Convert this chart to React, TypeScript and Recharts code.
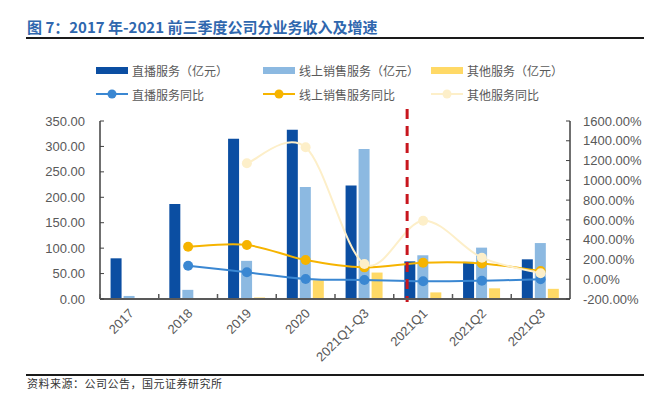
import {
  Bar,
  ComposedChart,
  Line,
  ReferenceLine,
  XAxis,
  YAxis,
} from "recharts";

const categories = ["2017", "2018", "2019", "2020", "2021Q1-Q3", "2021Q1", "2021Q2", "2021Q3"];
const liveRevenue = [80, 187, 315, 333, 223, 74, 73, 78];
const onlineRevenue = [6, 18, 75, 220, 295, 86, 101, 110];
const otherRevenue = [0, 1.5, 3, 37, 52, 13, 21, 20];
const liveYoy = [null, 136, 70, 2, -8, -21, -15, -1];
const onlineYoy = [null, 329, 346, 194, 120, 167, 160, 83];
const otherYoy = [null, null, 1172, 1334, 154, 592, 218, 60];
const leftTicks = [0, 50, 100, 150, 200, 250, 300, 350];
const rightTicks = [-200, 0, 200, 400, 600, 800, 1000, 1200, 1400, 1600];

const C_LIVE = "#0b4ea2";
const C_ONLINE = "#8cb9e1";
const C_OTHER = "#ffd966";
const C_LIVE_L = "#3a87d2";
const C_ONLINE_L = "#f6b400";
const C_OTHER_L = "#fdefc9";
const AXIS_GRAY = "#595959";
const NUM_FONT = "'Liberation Sans', Arial, sans-serif";

const W = 658;
const H = 396;
const PLOT_L = 100;
const PLOT_R = 570;
const HALF_BAND = (PLOT_R - PLOT_L) / categories.length / 2;

const data = categories.map((c, i) => ({
  name: c,
  live: liveRevenue[i],
  online: onlineRevenue[i],
  other: otherRevenue[i],
  liveYoy: liveYoy[i],
  onlineYoy: onlineYoy[i],
  otherYoy: otherYoy[i],
}));

// excel-like smoothed line (catmull-rom through the points)
function smoothCurve(context: any) {
  let pts: number[][] = [];
  return {
    areaStart() {},
    areaEnd() {},
    lineStart() {
      pts = [];
    },
    point(x: number, y: number) {
      pts.push([+x, +y]);
    },
    lineEnd() {
      const n = pts.length;
      if (!n) return;
      context.moveTo(pts[0][0], pts[0][1]);
      for (let i = 0; i < n - 1; i++) {
        const p0 = pts[i - 1] || pts[i];
        const p1 = pts[i];
        const p2 = pts[i + 1];
        const p3 = pts[i + 2] || p2;
        context.bezierCurveTo(
          p1[0] + (p2[0] - p0[0]) / 6,
          p1[1] + (p2[1] - p0[1]) / 6,
          p2[0] - (p3[0] - p1[0]) / 6,
          p2[1] - (p3[1] - p1[1]) / 6,
          p2[0],
          p2[1]
        );
      }
    },
  };
}

const XTick = (props: any) => {
  const { x, y, payload } = props;
  return (
    <g>
      <line x1={x - HALF_BAND} x2={x - HALF_BAND} y1={y - 5} y2={y} stroke={AXIS_GRAY} strokeWidth={1.5} />
      <text
        transform={`translate(${x + 2},${y + 12}) rotate(-45)`}
        textAnchor="end"
        fill={AXIS_GRAY}
        fontSize={13}
        fontFamily={NUM_FONT}
        dy="0.35em"
      >
        {payload.value}
      </text>
    </g>
  );
};

const legendRows = [
  [
    { label: "直播服务（亿元）", color: C_LIVE, kind: "bar" },
    { label: "线上销售服务（亿元）", color: C_ONLINE, kind: "bar" },
    { label: "其他服务（亿元）", color: C_OTHER, kind: "bar" },
  ],
  [
    { label: "直播服务同比", color: C_LIVE_L, kind: "line" },
    { label: "线上销售服务同比", color: C_ONLINE_L, kind: "line" },
    { label: "其他服务同比", color: C_OTHER_L, kind: "line" },
  ],
];
const legendCols = [96, 263, 431];
const legendRowY = [70, 94];

function LegendItem({ label, color, kind }: { label: string; color: string; kind: string }) {
  return (
    <div style={{ display: "flex", alignItems: "center", height: 16 }}>
      {kind === "bar" ? (
        <div style={{ width: 32, height: 7, background: color }} />
      ) : (
        <svg width={32} height={12}>
          <line x1={0} x2={32} y1={6} y2={6} stroke={color} strokeWidth={2} />
          <circle cx={16} cy={6} r={4.5} fill={color} />
        </svg>
      )}
      <span style={{ marginLeft: 4, fontSize: 12, color: "#595959", letterSpacing: 0 }}>{label}</span>
    </div>
  );
}

export default function App() {
  const textFont = "'Noto Sans CJK SC', 'Liberation Sans', sans-serif";
  return (
    <div
      style={{
        position: "absolute",
        left: 0,
        top: 0,
        width: W,
        height: H,
        background: "#fff",
        fontFamily: textFont,
        overflow: "hidden",
      }}
    >
      <ComposedChart
        width={W}
        height={H}
        data={data}
        margin={{ top: 121, right: 18, bottom: 37, left: 30 }}
        barCategoryGap="18%"
        barGap={2}
        style={{ position: "absolute", left: 0, top: 0 }}
      >
        <XAxis
          dataKey="name"
          xAxisId="x"
          height={60}
          interval={0}
          tickSize={0}
          tickMargin={0}
          tickLine={false}
          tick={<XTick />}
          axisLine={{ stroke: AXIS_GRAY, strokeWidth: 2 }}
        />
        <YAxis
          yAxisId="left"
          width={70}
          domain={[0, 350]}
          ticks={leftTicks}
          interval={0}
          tickFormatter={(v: number) => v.toFixed(2)}
          tickSize={-4}
          tickMargin={19}
          tick={{ fill: AXIS_GRAY, fontSize: 13, fontFamily: NUM_FONT }}
          tickLine={{ stroke: "#404040" }}
          axisLine={{ stroke: "#404040", strokeWidth: 1.5 }}
        />
        <YAxis
          yAxisId="right"
          orientation="right"
          width={70}
          domain={[-200, 1600]}
          ticks={rightTicks}
          interval={0}
          tickFormatter={(v: number) => `${v.toFixed(2)}%`}
          tickSize={-4}
          tickMargin={17}
          tick={{ fill: AXIS_GRAY, fontSize: 13, fontFamily: NUM_FONT, textAnchor: "start" }}
          tickLine={{ stroke: "#404040" }}
          axisLine={{ stroke: "#404040", strokeWidth: 1.5 }}
        />
        <Bar xAxisId="x" yAxisId="left" dataKey="live" fill={C_LIVE} isAnimationActive={false} />
        <Bar xAxisId="x" yAxisId="left" dataKey="online" fill={C_ONLINE} isAnimationActive={false} />
        <Bar xAxisId="x" yAxisId="left" dataKey="other" fill={C_OTHER} isAnimationActive={false} />
        <Line
          xAxisId="x"
          yAxisId="right"
          dataKey="liveYoy"
          type={smoothCurve as any}
          stroke={C_LIVE_L}
          strokeWidth={2}
          dot={{ r: 5, fill: C_LIVE_L, stroke: C_LIVE_L, strokeWidth: 0 }}
          isAnimationActive={false}
        />
        <Line
          xAxisId="x"
          yAxisId="right"
          dataKey="onlineYoy"
          type={smoothCurve as any}
          stroke={C_ONLINE_L}
          strokeWidth={2}
          dot={{ r: 5, fill: C_ONLINE_L, stroke: C_ONLINE_L, strokeWidth: 0 }}
          isAnimationActive={false}
        />
        <Line
          xAxisId="x"
          yAxisId="right"
          dataKey="otherYoy"
          type={smoothCurve as any}
          stroke={C_OTHER_L}
          strokeWidth={2}
          dot={{ r: 5, fill: C_OTHER_L, stroke: C_OTHER_L, strokeWidth: 0 }}
          isAnimationActive={false}
        />
        <ReferenceLine
          xAxisId="x"
          yAxisId="left"
          x="2021Q1"
          shape={(p: any) => {
            const top = Math.min(p.y1, p.y2);
            const bottom = Math.max(p.y1, p.y2);
            return (
              <line
                x1={p.x1 - 16}
                x2={p.x2 - 16}
                y1={top - 12}
                y2={bottom + 3}
                stroke="#c8161e"
                strokeWidth={3}
                strokeDasharray="10 7"
              />
            );
          }}
        />
      </ComposedChart>

      <div
        style={{
          position: "absolute",
          left: 27,
          top: 17,
          fontSize: 15,
          fontWeight: 700,
          color: "#2f67ae",
          lineHeight: "19px",
          whiteSpace: "nowrap",
        }}
      >
        图 7：2017 年-2021 前三季度公司分业务收入及增速
      </div>
      <div style={{ position: "absolute", left: 26, top: 37, width: 618, height: 2, background: "#1a1a1a" }} />

      {legendRows.map((row, r) =>
        row.map((item, c) => (
          <div
            key={`${r}-${c}`}
            style={{ position: "absolute", left: legendCols[c], top: legendRowY[r] - 8, whiteSpace: "nowrap" }}
          >
            <LegendItem {...item} />
          </div>
        ))
      )}

      <div style={{ position: "absolute", left: 26, top: 374, width: 618, height: 2, background: "#1a1a1a" }} />
      <div
        style={{
          position: "absolute",
          left: 27,
          top: 376,
          fontSize: 11,
          color: "#333",
          letterSpacing: 0.5,
          lineHeight: "14px",
          whiteSpace: "nowrap",
        }}
      >
        资料来源：公司公告，国元证券研究所
      </div>
    </div>
  );
}
